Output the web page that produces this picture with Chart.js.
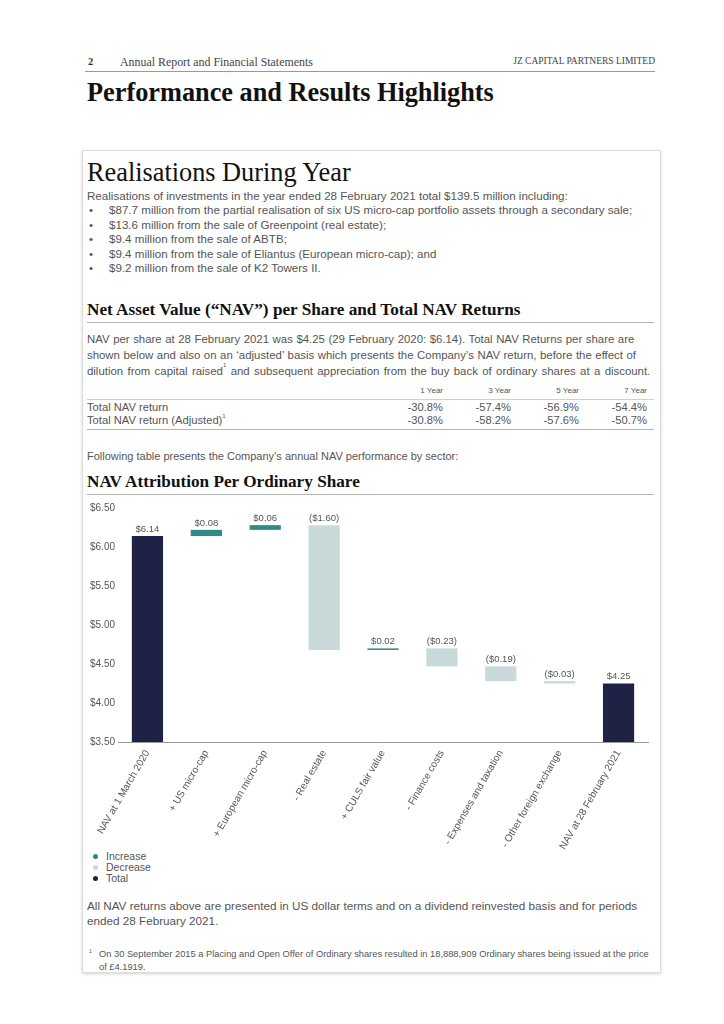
<!DOCTYPE html>
<html>
<head>
<meta charset="utf-8">
<script src="https://cdn.jsdelivr.net/npm/chart.js@4.4.0/dist/chart.umd.min.js"></script>
<style>
  body { margin: 0; background: #fff; width: 724px; height: 1024px; position: relative; overflow: hidden; }
  .abs { position: absolute; white-space: nowrap; }
  .serif { font-family: "Liberation Serif", "DejaVu Serif", serif; }
  .sans { font-family: "Liberation Sans", Arial, sans-serif; }
  .rule { position: absolute; height: 1px; background: #b5b5b5; }
  .card { position: absolute; left: 82px; top: 150px; width: 577px; height: 821px; border: 1px solid #dcdcdc; box-shadow: 0 1px 3px rgba(0,0,0,0.18); }
  .body { color: #555; font-size: 11px; }
  .h2 { font-weight: bold; font-size: 17.2px; color: #111; }
  .num { position: absolute; text-align: right; width: 60px; }
  sup { font-size: 6px; vertical-align: top; line-height: 0; position: relative; top: 2px; }
  #legend { position: absolute; left: 93px; top: 851px; font-size: 10.5px; color: #555; }
  #legend div { height: 11px; line-height: 11px; display: flex; align-items: center; }
  #legend span.dot { width: 5px; height: 5px; border-radius: 50%; display: inline-block; margin-right: 8px; }
</style>
</head>
<body>

<div class="abs serif" style="left:88px; top:56px; font-size:10.5px; font-weight:bold; color:#333;">2</div>
<div class="abs serif" style="left:120px; top:55px; font-size:11.9px; color:#444;">Annual Report and Financial Statements</div>
<div class="abs serif" style="right:69px; top:56px; font-size:9.5px; color:#444;">JZ CAPITAL PARTNERS LIMITED</div>
<div class="rule" style="left:85px; top:71px; width:570px; background:#999;"></div>
<div class="abs serif" style="left:87px; top:78px; font-size:26.3px; font-weight:bold; color:#111;">Performance and Results Highlights</div>

<div class="card"></div>

<div class="abs serif" style="left:87px; top:158px; font-size:26.3px; color:#111;">Realisations During Year</div>
<div class="abs sans body" style="left:87px; top:189px; line-height:14.4px; font-size:11.6px;">
  Realisations of investments in the year ended 28 February 2021 total $139.5 million including:
</div>
<div class="abs sans body" style="left:89px; top:203.4px; line-height:14.4px; font-size:11.6px;">•<br>•<br>•<br>•<br>•</div>
<div class="abs sans body" style="left:109px; top:203.4px; line-height:14.4px; font-size:11.6px;">
  $87.7 million from the partial realisation of six US micro-cap portfolio assets through a secondary sale;<br>
  $13.6 million from the sale of Greenpoint (real estate);<br>
  $9.4 million from the sale of ABTB;<br>
  $9.4 million from the sale of Eliantus (European micro-cap); and<br>
  $9.2 million from the sale of K2 Towers II.
</div>

<div class="abs serif h2" style="left:87px; top:300px;">Net Asset Value (“NAV”) per Share and Total NAV Returns</div>
<div class="rule" style="left:87px; top:322px; width:567px;"></div>
<div class="abs sans body" style="left:87px; top:331px; line-height:16px; font-size:11.4px; word-spacing:0.4px;">
  NAV per share at 28 February 2021 was $4.25 (29 February 2020: $6.14). Total NAV Returns per share are<br>
  shown below and also on an ‘adjusted’ basis which presents the Company’s NAV return, before the effect of<br>
  <span style="word-spacing:1.2px;">dilution from capital raised<sup>1</sup> and subsequent appreciation from the buy back of ordinary shares at a discount.</span>
</div>

<div class="sans" style="position:absolute; left:0; top:386px; font-size:8px; color:#555;">
  <div class="num" style="left:383px;">1 Year</div>
  <div class="num" style="left:451px;">3 Year</div>
  <div class="num" style="left:519px;">5 Year</div>
  <div class="num" style="left:587px;">7 Year</div>
</div>
<div class="rule" style="left:87px; top:399px; width:567px; background:#d0d0d0;"></div>
<div class="sans body" style="position:absolute; left:0; top:401px; line-height:13px; font-size:11.2px;">
  <div class="abs" style="left:87px; top:0;">Total NAV return</div>
  <div class="num" style="left:383px; top:0;">-30.8%</div>
  <div class="num" style="left:451px; top:0;">-57.4%</div>
  <div class="num" style="left:519px; top:0;">-56.9%</div>
  <div class="num" style="left:587px; top:0;">-54.4%</div>
  <div class="abs" style="left:87px; top:13px;">Total NAV return (Adjusted)<sup>1</sup></div>
  <div class="num" style="left:383px; top:13px;">-30.8%</div>
  <div class="num" style="left:451px; top:13px;">-58.2%</div>
  <div class="num" style="left:519px; top:13px;">-57.6%</div>
  <div class="num" style="left:587px; top:13px;">-50.7%</div>
</div>
<div class="rule" style="left:87px; top:429px; width:567px;"></div>

<div class="abs sans body" style="left:87px; top:450px;">Following table presents the Company’s annual NAV performance by sector:</div>
<div class="abs serif h2" style="left:87px; top:472px;">NAV Attribution Per Ordinary Share</div>
<div class="rule" style="left:87px; top:494px; width:567px;"></div>

<div style="position:absolute; left:82px; top:498px; width:578px; height:352px;">
  <canvas id="chart" width="578" height="352"></canvas>
</div>
<div id="legend" class="sans"></div>

<div class="abs sans" style="left:87px; top:898px; font-size:11.7px; color:#555; line-height:15px;">
  All NAV returns above are presented in US dollar terms and on a dividend reinvested basis and for periods<br>
  ended 28 February 2021.
</div>
<div class="abs sans" style="left:89px; top:948px; font-size:5px; color:#555;">1</div>
<div class="abs sans" style="left:99px; top:948px; font-size:9.3px; color:#555; line-height:13px;">
  On 30 September 2015 a Placing and Open Offer of Ordinary shares resulted in 18,888,909 Ordinary shares being issued at the price<br>
  of £4.1919.
</div>

<script>
// NAV attribution data (US$ per share)
const categories = [
    'NAV at 1 March 2020',
    '+ US micro-cap',
    '+ European micro-cap',
    '- Real estate',
    '+ CULS fair value',
    '- Finance costs',
    '- Expenses and taxation',
    '- Other foreign exchange',
    'NAV at 28 February 2021'
];
const values = [6.14, 0.08, 0.06, -1.60, 0.02, -0.23, -0.19, -0.03, 4.25];
const barTypes = ['Total', 'Increase', 'Increase', 'Decrease', 'Increase', 'Decrease', 'Decrease', 'Decrease', 'Total'];
const seriesNames = ['Increase', 'Decrease', 'Total'];
const seriesColors = ['#2e8a85', '#c9d9da', '#1f2145'];
const yTicks = [3.5, 4.0, 4.5, 5.0, 5.5, 6.0, 6.5];

// running total -> floating ranges
let running = 0;
const ranges = values.map((v, i) => {
    if (barTypes[i] === 'Total') {
        running = v;
        return [0, v];
    }
    const start = running;
    running = +(running + v).toFixed(2);
    return [start, running];
});

const datasets = seriesNames.map((name, s) => ({
    label: name,
    data: ranges.map((r, i) => barTypes[i] === name ? r : null),
    backgroundColor: seriesColors[s],
    grouped: false,
    categoryPercentage: 0.53,
    barPercentage: 1
}));

function money(v) {
    return v < 0 ? '($' + Math.abs(v).toFixed(2) + ')' : '$' + v.toFixed(2);
}

const barLabels = {
    id: 'barLabels',
    afterDatasetsDraw(chart) {
        const c = chart.ctx;
        c.save();
        c.font = '9.5px "Liberation Sans", Arial, sans-serif';
        c.fillStyle = '#555';
        c.textAlign = 'center';
        c.textBaseline = 'bottom';
        chart.data.datasets.forEach((ds, d) => {
            chart.getDatasetMeta(d).data.forEach((bar, i) => {
                if (ds.data[i] === null) return;
                const top = Math.min(bar.y, bar.base);
                c.fillText(money(values[i]), bar.x, top - 2);
            });
        });
        c.restore();
    }
};

const ctx = document.getElementById('chart').getContext('2d');

const navChart = new Chart(ctx, {
    type: 'bar',
    data: {
        labels: categories,
        datasets: datasets
    },
    options: {
        responsive: false,
        animation: false,
        layout: { padding: { top: 10, right: 12, left: 0, bottom: 0 } },
        plugins: {
            legend: { display: false },
            tooltip: { enabled: false }
        },
        scales: {
            x: {
                grid: { display: false, drawTicks: false },
                border: { display: true, color: '#999' },
                ticks: {
                    color: '#555',
                    font: { family: '"Liberation Sans", Arial, sans-serif', size: 10 },
                    minRotation: 60,
                    maxRotation: 60,
                    padding: 6
                },
                afterFit(scale) { scale.height = 108; }
            },
            y: {
                min: 3.5,
                max: 6.5,
                grid: { display: false, drawTicks: false },
                border: { display: false },
                afterBuildTicks(scale) { scale.ticks = yTicks.map(v => ({ value: v })); },
                ticks: {
                    color: '#555',
                    padding: 3,
                    font: { family: '"Liberation Sans", Arial, sans-serif', size: 10 },
                    callback: v => '$' + Number(v).toFixed(2)
                },
                afterFit(scale) { scale.width = 36; }
            }
        }
    },
    plugins: [barLabels]
});

// vertical legend like the report
const legend = document.getElementById('legend');
seriesNames.forEach((name, s) => {
    const row = document.createElement('div');
    row.innerHTML = '<span class="dot" style="background:' + seriesColors[s] + '"></span>' + name;
    legend.appendChild(row);
});
</script>
</body>
</html>
